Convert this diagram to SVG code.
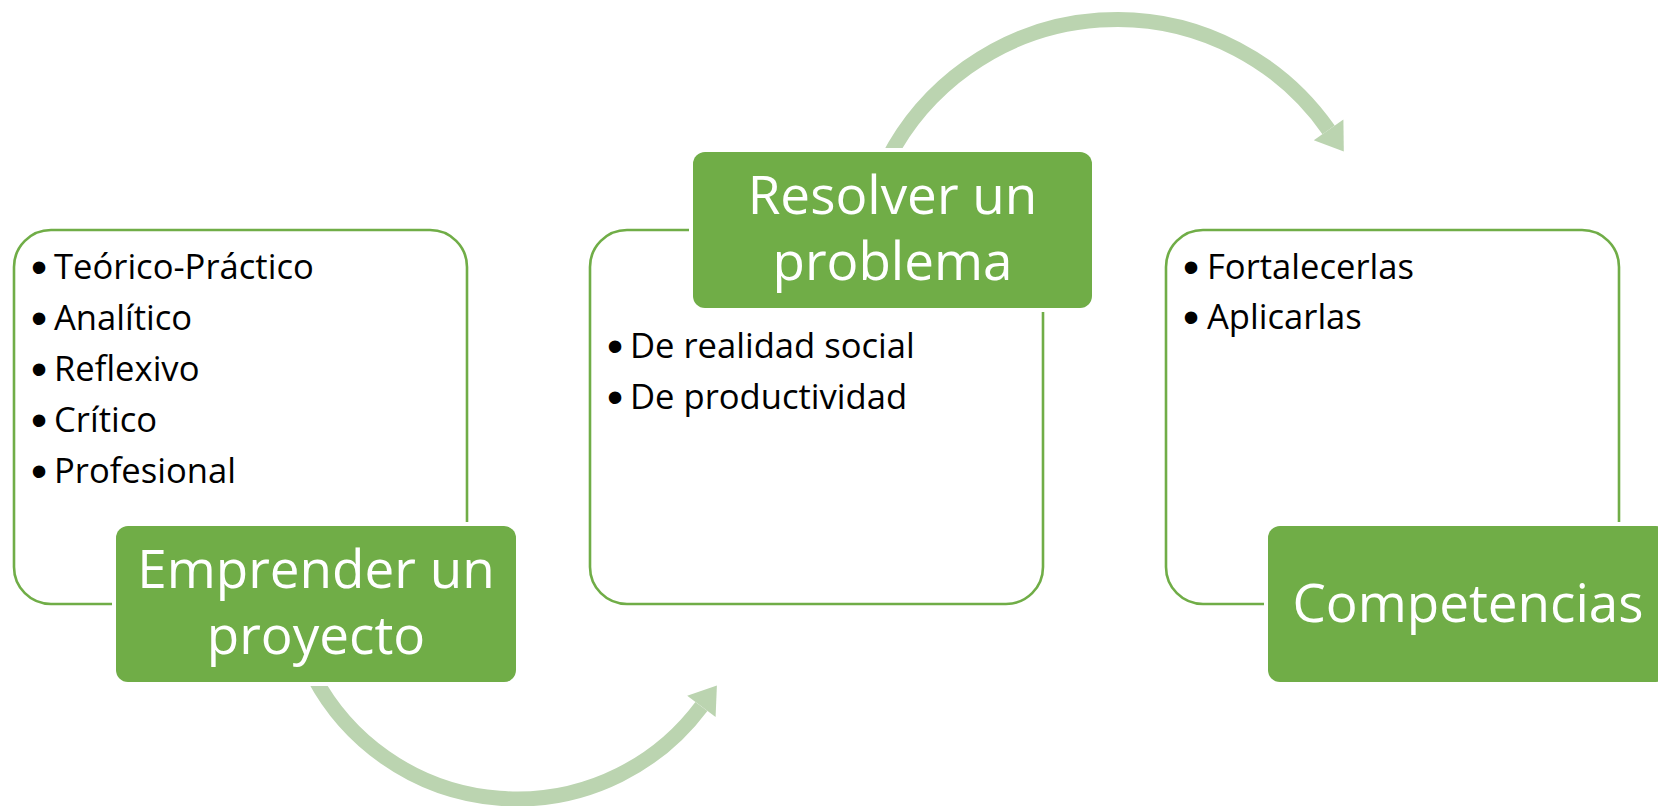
<svg xmlns="http://www.w3.org/2000/svg" width="1658" height="806" viewBox="0 0 1658 806">
  <style>
    .box { fill: #FFFFFF; stroke: #70AD47; stroke-width: 2.6; }
    .gap { fill: #FFFFFF; }
    .title { fill: #70AD47; }
    .ttl { font-family: "Open Sans", "Noto Sans", sans-serif; font-size: 53px; fill: #FFFFFF; text-anchor: middle; }
    .item { font-family: "Open Sans", "Noto Sans", sans-serif; font-size: 34.6px; fill: #000000; }
    .bul { font-family: "Liberation Sans", Arial, sans-serif; font-size: 46px; fill: #000000; text-anchor: middle; }
    .arc { fill: none; stroke: #BBD4B0; stroke-width: 15; stroke-linecap: butt; }
    .head { fill: #BBD4B0; }
  </style>
  <rect width="1658" height="806" fill="#FFFFFF"/>

  <g id="connectors">
    <path class="arc" d="M 313.9 677 A 230 230 0 0 0 701.4 706.4"/>
    <polygon class="head" points="716.9,685.6 715.6,717.0 687.2,695.8"/>
    <path class="arc" d="M 887.3 160 A 258 258 0 0 1 1328.6 129.9"/>
    <polygon class="head" points="1343.8,151.6 1343.4,119.6 1313.8,140.2"/>
  </g>

  <g id="node-emprender">
    <rect class="box" x="14" y="230" width="453" height="374" rx="37" ry="37"/>
    <text class="bul" x="39" y="282.5">•</text><text class="item" x="54" y="279">Teórico-Práctico</text>
    <text class="bul" x="39" y="333.5">•</text><text class="item" x="54" y="330">Analítico</text>
    <text class="bul" x="39" y="384.5">•</text><text class="item" x="54" y="381">Reflexivo</text>
    <text class="bul" x="39" y="435.5">•</text><text class="item" x="54" y="432">Crítico</text>
    <text class="bul" x="39" y="486.5">•</text><text class="item" x="54" y="483">Profesional</text>
    <rect class="gap" x="112" y="522" width="408" height="164" rx="16" ry="16"/>
    <rect class="title" x="116" y="526" width="400" height="156" rx="12" ry="12"/>
    <text class="ttl" x="316" y="588">Emprender un</text>
    <text class="ttl" x="316" y="654">proyecto</text>
  </g>

  <g id="node-resolver">
    <rect class="box" x="590" y="230" width="453" height="374" rx="37" ry="37"/>
    <text class="bul" x="615" y="361.5">•</text><text class="item" x="630" y="358">De realidad social</text>
    <text class="bul" x="615" y="412.5">•</text><text class="item" x="630" y="409">De productividad</text>
    <rect class="gap" x="689" y="148" width="407" height="164" rx="16" ry="16"/>
    <rect class="title" x="693" y="152" width="399" height="156" rx="12" ry="12"/>
    <text class="ttl" x="892.5" y="214">Resolver un</text>
    <text class="ttl" x="892.5" y="280">problema</text>
  </g>

  <g id="node-competencias">
    <rect class="box" x="1166" y="230" width="453" height="374" rx="37" ry="37"/>
    <text class="bul" x="1191" y="282.5">•</text><text class="item" x="1207" y="279">Fortalecerlas</text>
    <text class="bul" x="1191" y="332.5">•</text><text class="item" x="1207" y="329">Aplicarlas</text>
    <rect class="gap" x="1264" y="522" width="408" height="164" rx="16" ry="16"/>
    <rect class="title" x="1268" y="526" width="400" height="156" rx="12" ry="12"/>
    <text class="ttl" x="1468" y="622">Competencias</text>
  </g>
</svg>
